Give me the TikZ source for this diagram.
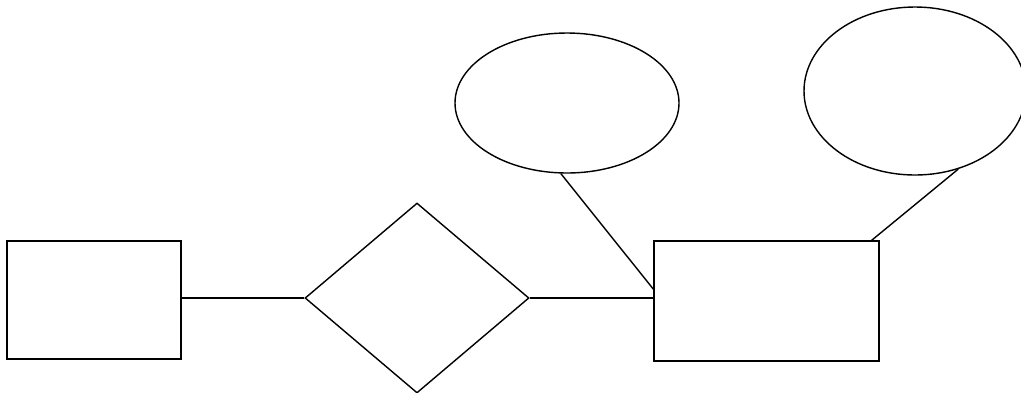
\documentclass[tikz,border=0pt]{standalone}
\usetikzlibrary{shapes.geometric, calc}

\begin{document}
\begin{tikzpicture}[
    entity/.style={draw, rectangle, line width=0.8pt, inner sep=0pt},
    relation/.style={draw, diamond, line width=0.8pt, inner sep=0pt, minimum width=4.48cm, minimum height=3.8cm},
    attribute/.style={draw, ellipse, line width=0.8pt, inner sep=0pt},
    link/.style={line width=0.8pt}
]
\useasboundingbox (0,0) rectangle (20.42,-7.84);

% Entities and relation
\node[entity, minimum width=3.48cm, minimum height=2.36cm] (ent1) at (1.88, -6.0) {};
\node[relation] (rel) at (8.34, -5.96) {};
\node[entity, minimum width=4.5cm, minimum height=2.4cm] (ent2) at (15.33, -6.02) {};

% Attributes
\node[attribute, minimum width=4.48cm, minimum height=2.8cm] (att1) at (11.34, -2.06) {};
\node[attribute, minimum width=4.44cm, minimum height=3.36cm] (att2) at (18.3, -1.82) {};

% Connections
\draw[link] (ent1.east |- rel.west) -- (rel.west);
\draw[link] (rel.east) -- (rel.east -| ent2.west);
\draw[link] (att1.265) -- (ent2.174);
\draw[link] (att2.-61) -- (ent2.30.6);

\end{tikzpicture}
\end{document}
